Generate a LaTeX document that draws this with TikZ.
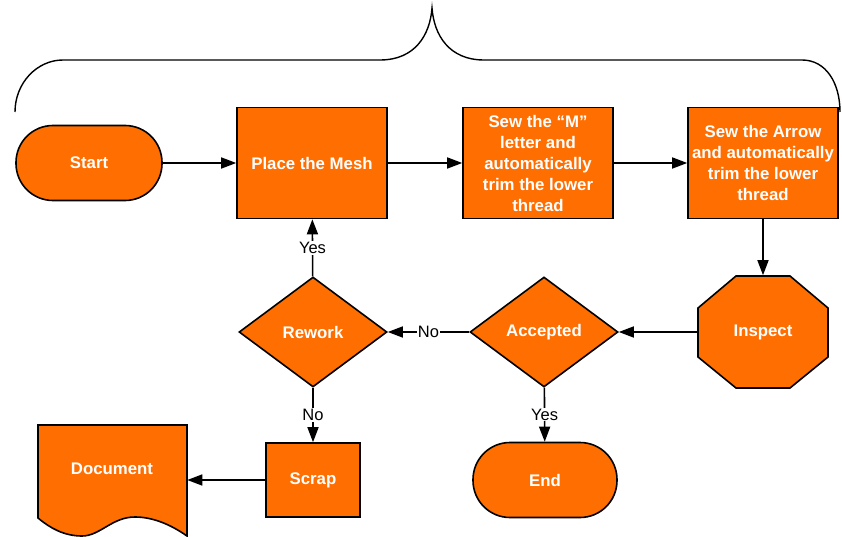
\documentclass[tikz,border=0pt]{standalone}
\usepackage{fontspec}
\setmainfont{Liberation Sans}
\usetikzlibrary{shapes.geometric,arrows.meta}
\definecolor{mesh}{RGB}{255,110,0}
\begin{document}
\begin{tikzpicture}[x=1pt,y=-1pt,
    outline/.style={draw=black,line width=1.6pt,fill=mesh},
    box/.style={outline,text=white,align=center,inner sep=0pt,
      font=\fontsize{16.8}{21}\selectfont\bfseries},
    stepbox/.style={box,rectangle,minimum width=150pt,minimum height=111pt},
    termbox/.style={box,rectangle,rounded corners=37pt,minimum width=146pt,minimum height=75pt},
    decide/.style={box,diamond,minimum width=148pt,minimum height=110pt},
    arr/.style={line width=1.6pt,-{Triangle[length=15pt,width=11pt]}},
    lbl/.style={fill=white,inner sep=1pt,font=\fontsize{16.5}{18}\selectfont}]
  \useasboundingbox (0,0) rectangle (842,537);
  % brace over the sewing steps
  \draw[line width=1.4pt] (15,112) .. controls (15,83) and (37,60) .. (63,60) -- (380,60)
    .. controls (415,60) and (430,35) .. (432,8) .. controls (434,35) and (449,60) .. (484,60)
    -- (802,60) .. controls (826,60) and (840,83) .. (840,112);
  % outlines drawn by hand
  \filldraw[outline] (38,425) -- (187,425) -- (187,536)
    .. controls (170,524) and (152,517) .. (135,517)
    .. controls (112,517) and (100,536) .. (82,536)
    .. controls (64,536) and (50,528) .. (38,518) -- cycle;
  \filldraw[outline] (736,276) -- (790,276) -- (828,308) -- (828,357)
    -- (790,388) -- (736,388) -- (698,357) -- (698,308) -- cycle;
  % top row
  \node[termbox] (start) at (89,163) {Start};
  \node[stepbox] (place) at (312,163) {Place the Mesh};
  \node[stepbox] (sewm) at (538,163) {Sew the ``M''\\letter and\\automatically\\trim the lower\\thread};
  \node[stepbox] (sewa) at (763,163) {Sew the Arrow\\and automatically\\trim the lower\\thread};
  % middle row
  \node[box,draw=none,fill=none,minimum width=130pt,minimum height=112pt] (insp) at (763,332) {Inspect};
  \node[decide] (acc) at (544,332) {Accepted};
  \node[decide] (rew) at (313,332) {Rework};
  % bottom row
  \node[stepbox,minimum width=94pt,minimum height=74pt] (scrap) at (313,480) {Scrap};
  \node[termbox,minimum width=144pt] (end) at (545,480) {End};
  \node[box,draw=none,fill=none,minimum width=149pt,minimum height=90pt] (doc) at (112,469) {Document};
  % connectors
  \draw[arr] (start) -- (place);
  \draw[arr] (place) -- (sewm);
  \draw[arr] (sewm) -- (sewa);
  \draw[arr] (sewa) -- (insp);
  \draw[arr] (insp) -- (acc);
  \draw[arr] (acc) -- node[lbl] {No} (rew);
  \draw[arr] (rew) -- node[lbl] {Yes} (place);
  \draw[arr] (rew) -- node[lbl] {No} (scrap);
  \draw[arr] (acc) -- node[lbl] {Yes} (end);
  \draw[arr] (scrap.west) -- (scrap.west -| doc.east);
\end{tikzpicture}
\end{document}
